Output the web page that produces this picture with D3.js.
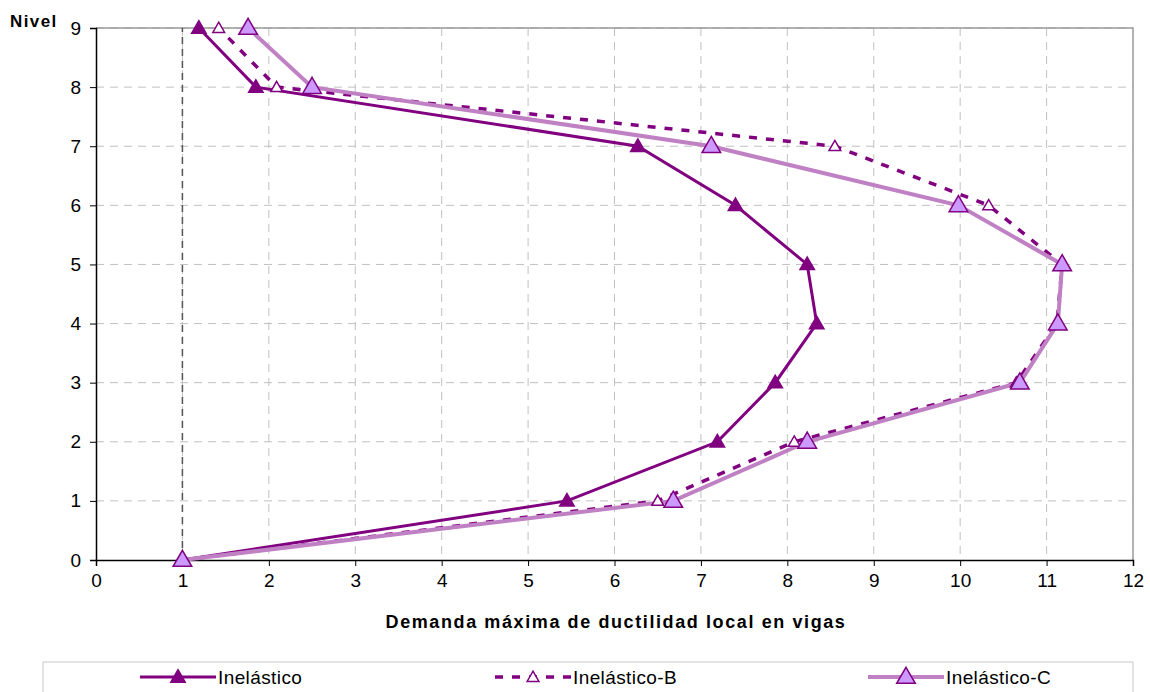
<!DOCTYPE html>
<html><head><meta charset="utf-8">
<script src="https://cdn.jsdelivr.net/npm/d3@7"></script>
<style>body{margin:0;background:#fff;font-family:"Liberation Sans",Arial,sans-serif;}</style>
</head><body>
<svg id="c" width="1150" height="692"></svg>
<script>
const levels = [0,1,2,3,4,5,6,7,8,9];
const inelastico  = [1.0, 5.45, 7.19, 7.86, 8.34, 8.23, 7.40, 6.27, 1.85, 1.19];
const inelasticoB = [1.0, 6.50, 8.08, 10.65, 11.12, 11.18, 10.33, 8.55, 2.09, 1.42];
const inelasticoC = [1.0, 6.68, 8.23, 10.69, 11.13, 11.18, 9.98, 7.12, 2.50, 1.76];
const xTicks = [0,1,2,3,4,5,6,7,8,9,10,11,12];
const yTicks = [0,1,2,3,4,5,6,7,8,9];
const seriesNames = ["Inelástico","Inelástico-B","Inelástico-C"];

const svg = d3.select("#c");
const L=96,R=1133,T=28,B=560;
const x = d3.scaleLinear().domain([0,12]).range([L,R]);
const y = d3.scaleLinear().domain([0,9]).range([B,T]);
const FF = "Liberation Sans, Arial";

// grid
svg.append("g").selectAll("line").data(yTicks.slice(1)).join("line")
  .attr("x1",L).attr("x2",R).attr("y1",d=>y(d)).attr("y2",d=>y(d))
  .attr("stroke","#c0c0c0").attr("stroke-dasharray","8,6");
svg.append("g").selectAll("line").data(xTicks.slice(1,12)).join("line")
  .attr("x1",d=>x(d)).attr("x2",d=>x(d)).attr("y1",T).attr("y2",B)
  .attr("stroke","#c0c0c0").attr("stroke-dasharray","8,6");
svg.append("path").attr("d",`M${L},${T}H${R}V${B}`).attr("fill","none").attr("stroke","#999").attr("stroke-width",1.5);
svg.append("line").attr("x1",x(1)).attr("x2",x(1)).attr("y1",y(0)).attr("y2",y(9))
  .attr("stroke","#555").attr("stroke-width",1.5).attr("stroke-dasharray","7,5");

// axes
const xa = svg.append("g").attr("transform",`translate(0,${B})`)
  .call(d3.axisBottom(x).tickValues(xTicks).tickSize(6).tickPadding(8).tickFormat(d3.format("d")));
const ya = svg.append("g").attr("transform",`translate(${L},0)`)
  .call(d3.axisLeft(y).tickValues(yTicks).tickSize(6).tickPadding(9).tickFormat(d3.format("d")));
[xa,ya].forEach(a=>{
  a.select(".domain").attr("stroke","#000").attr("stroke-width",1.5);
  a.selectAll(".tick line").attr("stroke","#000");
  a.selectAll("text").attr("font-family",FF).attr("font-size",19).attr("fill","#000");
});

svg.append("text").attr("x",10).attr("y",27).attr("font-size",17).attr("font-weight","bold")
  .attr("letter-spacing","1.4").attr("font-family",FF).text("Nivel");
svg.append("text").attr("x",616).attr("y",628).attr("text-anchor","middle").attr("font-size",18)
  .attr("font-weight","bold").attr("letter-spacing","1.6").attr("font-family",FF)
  .text("Demanda máxima de ductilidad local en vigas");

const line = d3.line().x(d=>x(d[0])).y(d=>y(d[1]));
const tri = (s)=>d3.symbol().type(d3.symbolTriangle).size(s)();
const styles = [
  {stroke:"#800080",width:3,dash:null,mfill:"#800080",mstroke:"#800080",msize:90},
  {stroke:"#800080",width:3.5,dash:"8,9",mfill:"#fff",mstroke:"#800080",msize:60},
  {stroke:"#c080c4",width:4,dash:null,mfill:"#cc99ff",mstroke:"#800080",msize:150}
];
const allData = [inelastico,inelasticoB,inelasticoC];
allData.forEach((vals,i)=>{
  const st=styles[i];
  const pts = vals.map((v,j)=>[v,levels[j]]);
  svg.append("path").datum(pts).attr("d",line).attr("fill","none")
    .attr("stroke",st.stroke).attr("stroke-width",st.width)
    .attr("stroke-dasharray",st.dash);
});
allData.forEach((vals,i)=>{
  const st=styles[i];
  svg.append("g").selectAll("path").data(vals.map((v,j)=>[v,levels[j]])).join("path")
    .attr("d",tri(st.msize)).attr("transform",d=>`translate(${x(d[0])},${y(d[1])+1})`)
    .attr("fill",st.mfill).attr("stroke",st.mstroke).attr("stroke-width",1.5);
});

// legend
svg.append("rect").attr("x",43).attr("y",662).attr("width",1090).attr("height",40)
  .attr("fill","#fff").attr("stroke","#c8c8c8");
const lx=[140,495,868];
seriesNames.forEach((n,i)=>{
  const st=styles[i];
  const g=svg.append("g");
  g.append("line").attr("x1",lx[i]).attr("x2",lx[i]+76).attr("y1",677).attr("y2",677)
    .attr("stroke",st.stroke).attr("stroke-width",st.width).attr("stroke-dasharray",st.dash);
  g.append("path").attr("d",tri(st.msize)).attr("transform",`translate(${lx[i]+38},678)`)
    .attr("fill",st.mfill).attr("stroke",st.mstroke).attr("stroke-width",1.5);
  g.append("text").attr("x",lx[i]+78).attr("y",684).attr("font-size",19).attr("letter-spacing","0.4")
    .attr("font-family",FF).text(n);
});
</script>
</body></html>
